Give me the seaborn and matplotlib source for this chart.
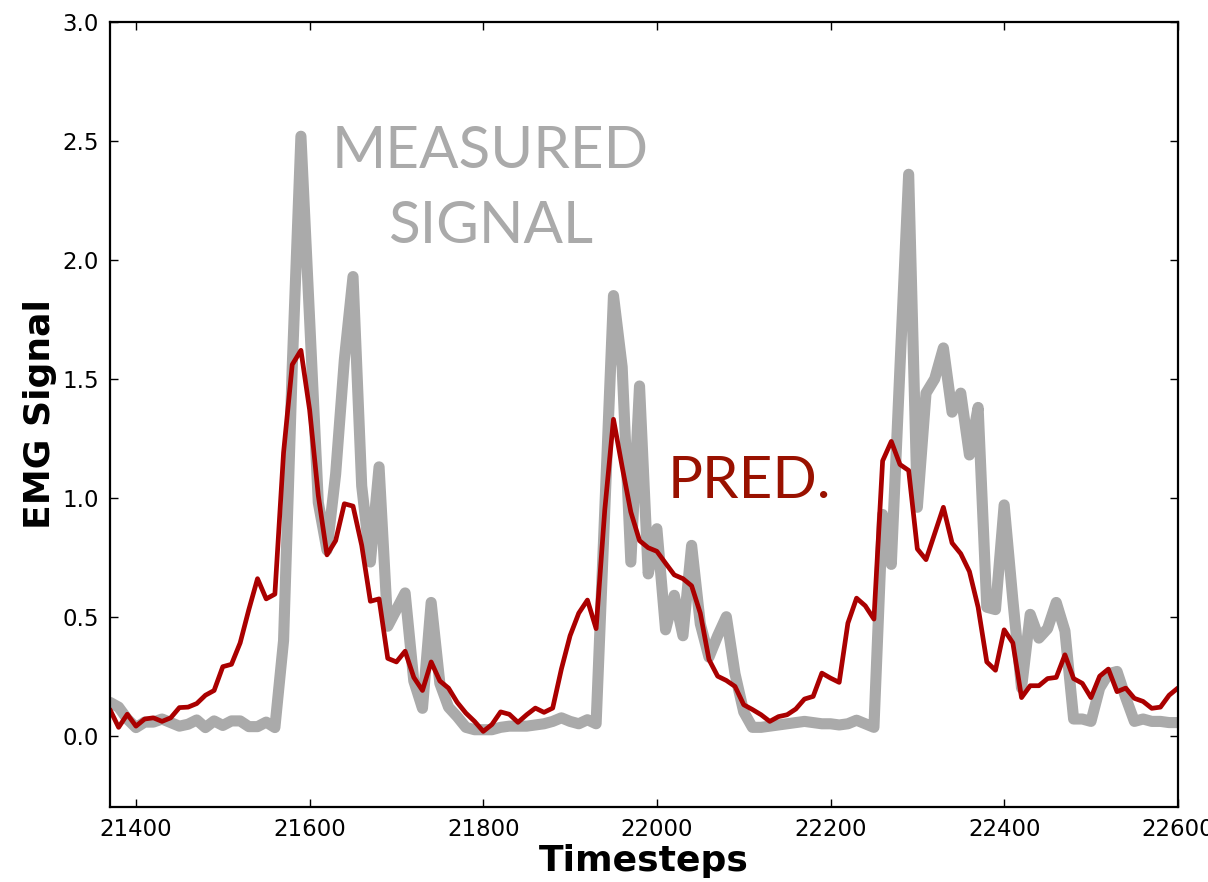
import numpy as np
import pandas as pd
import matplotlib
matplotlib.use("Agg")
import matplotlib.pyplot as plt
import seaborn as sns

# sampled every 10 timesteps
timesteps = np.arange(21370, 22601, 10)

measured = [
    0.14, 0.12, 0.07, 0.034, 0.057, 0.057, 0.07, 0.055, 0.04, 0.048,
    0.066, 0.034, 0.062, 0.043, 0.062, 0.062, 0.038, 0.038, 0.057, 0.034,
    0.40, 1.55, 2.52, 1.75, 0.98, 0.78, 1.10, 1.58, 1.93, 1.05,
    0.73, 1.13, 0.46, 0.53, 0.60, 0.23, 0.115, 0.56, 0.22, 0.12,
    0.08, 0.035, 0.025, 0.025, 0.025, 0.035, 0.04, 0.04, 0.04, 0.045,
    0.05, 0.06, 0.075, 0.06, 0.05, 0.067, 0.05, 0.95, 1.85, 1.55,
    0.73, 1.47, 0.68, 0.87, 0.445, 0.59, 0.42, 0.80, 0.47, 0.33,
    0.42, 0.50, 0.26, 0.10, 0.035, 0.035, 0.04, 0.045, 0.05, 0.055,
    0.06, 0.055, 0.05, 0.05, 0.045, 0.05, 0.065, 0.05, 0.035, 0.93,
    0.72, 1.55, 2.36, 0.96, 1.44, 1.50, 1.63, 1.36, 1.44, 1.18,
    1.38, 0.54, 0.53, 0.97, 0.57, 0.20, 0.51, 0.41, 0.45, 0.56,
    0.44, 0.07, 0.07, 0.06, 0.20, 0.26, 0.27, 0.16, 0.06, 0.07,
    0.06, 0.06, 0.055, 0.055,
]

predicted = [
    0.11, 0.035, 0.09, 0.04, 0.07, 0.075, 0.06, 0.075, 0.118, 0.12,
    0.135, 0.17, 0.19, 0.29, 0.30, 0.39, 0.53, 0.66, 0.575, 0.595,
    1.19, 1.56, 1.62, 1.37, 1.01, 0.76, 0.82, 0.975, 0.965, 0.80,
    0.565, 0.575, 0.325, 0.31, 0.355, 0.245, 0.19, 0.31, 0.23, 0.20,
    0.14, 0.095, 0.06, 0.018, 0.047, 0.10, 0.09, 0.056, 0.088, 0.116,
    0.098, 0.116, 0.28, 0.42, 0.515, 0.57, 0.45, 0.95, 1.33, 1.13,
    0.94, 0.82, 0.79, 0.775, 0.725, 0.676, 0.66, 0.63, 0.515, 0.32,
    0.25, 0.232, 0.207, 0.13, 0.11, 0.088, 0.06, 0.08, 0.088, 0.112,
    0.154, 0.165, 0.263, 0.242, 0.224, 0.473, 0.578, 0.546, 0.49, 1.155,
    1.237, 1.14, 1.115, 0.785, 0.74, 0.85, 0.96, 0.81, 0.765, 0.69,
    0.54, 0.31, 0.275, 0.445, 0.39, 0.16, 0.21, 0.21, 0.24, 0.245,
    0.34, 0.24, 0.22, 0.16, 0.25, 0.28, 0.185, 0.20, 0.157, 0.144,
    0.115, 0.12, 0.17, 0.20,
]

x_ticks = [21400, 21600, 21800, 22000, 22200, 22400, 22600]
y_ticks = [0.0, 0.5, 1.0, 1.5, 2.0, 2.5, 3.0]

df = pd.DataFrame({"Timesteps": timesteps, "measured": measured, "predicted": predicted})

sns.set_style("ticks")
plt.rcParams["font.family"] = ["DejaVu Sans"]
plt.rcParams["text.color"] = "black"
plt.rcParams["axes.labelcolor"] = "black"
plt.rcParams["xtick.color"] = "black"
plt.rcParams["ytick.color"] = "black"

fig = plt.figure(figsize=(12.08, 8.82), dpi=100)
ax = fig.add_axes([0.091, 0.085, 0.884, 0.890])

sns.lineplot(data=df, x="Timesteps", y="measured", color="#aaaaaa", linewidth=8, ax=ax)
sns.lineplot(data=df, x="Timesteps", y="predicted", color="#aa0000", linewidth=3.4, ax=ax)

ax.set_xlim(21370, 22600)
ax.set_ylim(-0.3, 3.0)
ax.set_xticks(x_ticks)
ax.set_yticks(y_ticks)
ax.set_yticklabels([f"{v:.1f}" for v in y_ticks])
ax.tick_params(direction="in", length=6, width=1, top=True, right=True,
               labelsize=16.5, pad=8, colors="black")
for s in ax.spines.values():
    s.set_linewidth(1.6)
    s.set_color("black")

ax.set_xlabel("Timesteps", fontsize=26, fontweight="bold", labelpad=2)
ax.set_ylabel("EMG Signal", fontsize=26, fontweight="bold", labelpad=4)

ax.text(21808, 2.387, "MEASURED", color="#aaaaaa", fontsize=42,
        family=["Lato", "DejaVu Sans"], ha="center", va="baseline")
ax.text(21808, 2.07, "SIGNAL", color="#aaaaaa", fontsize=42,
        family=["Lato", "DejaVu Sans"], ha="center", va="baseline")
ax.text(22012, 1.0, "PRED.", color="#991100", fontsize=42,
        family=["Lato", "DejaVu Sans"], ha="left", va="baseline")

fig.savefig("out.png", dpi=100)
